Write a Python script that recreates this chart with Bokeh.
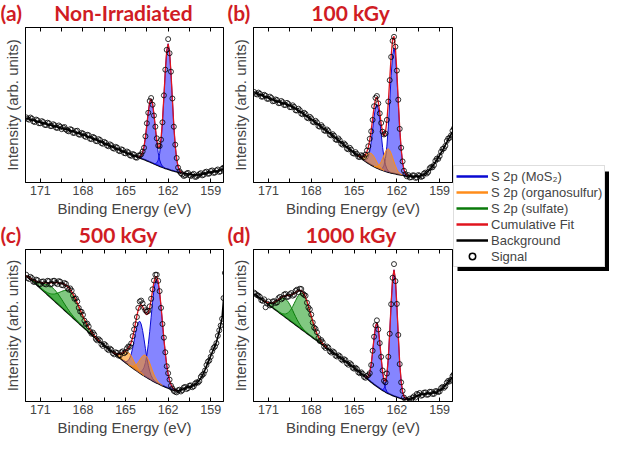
import numpy as np
from bokeh.plotting import figure
from bokeh.models import (Range1d, FixedTicker, LinearAxis, Label, Legend, LegendItem,
                          BoxAnnotation, CustomJSTickFormatter)
from bokeh.layouts import row, column
from bokeh.embed import file_html
from bokeh.resources import INLINE

# ---------------- data (binding energy grid, eV, 0.1 eV steps) ----------------
ENERGY = [172.0, 171.9, 171.8, 171.7, 171.6, 171.5, 171.4, 171.3, 171.2, 171.1,
          171.0, 170.9, 170.8, 170.7, 170.6, 170.5, 170.4, 170.3, 170.2, 170.1,
          170.0, 169.9, 169.8, 169.7, 169.6, 169.5, 169.4, 169.3, 169.2, 169.1,
          169.0, 168.9, 168.8, 168.7, 168.6, 168.5, 168.4, 168.3, 168.2, 168.1,
          168.0, 167.9, 167.8, 167.7, 167.6, 167.5, 167.4, 167.3, 167.2, 167.1,
          167.0, 166.9, 166.8, 166.7, 166.6, 166.5, 166.4, 166.3, 166.2, 166.1,
          166.0, 165.9, 165.8, 165.7, 165.6, 165.5, 165.4, 165.3, 165.2, 165.1,
          165.0, 164.9, 164.8, 164.7, 164.6, 164.5, 164.4, 164.3, 164.2, 164.1,
          164.0, 163.9, 163.8, 163.7, 163.6, 163.5, 163.4, 163.3, 163.2, 163.1,
          163.0, 162.9, 162.8, 162.7, 162.6, 162.5, 162.4, 162.3, 162.2, 162.1,
          162.0, 161.9, 161.8, 161.7, 161.6, 161.5, 161.4, 161.3, 161.2, 161.1,
          161.0, 160.9, 160.8, 160.7, 160.6, 160.5, 160.4, 160.3, 160.2, 160.1,
          160.0, 159.9, 159.8, 159.7, 159.6, 159.5, 159.4, 159.3, 159.2, 159.1,
          159.0, 158.9, 158.8, 158.7, 158.6, 158.5, 158.4, 158.3, 158.2, 158.1,
          158.0]

X_TICKS = [171, 168, 165, 162, 159]
X_MINOR = [169.5, 166.5, 163.5, 160.5]

# (a) Non-Irradiated
A_SIGNAL = [42.0, 41.0, 40.5, 41.9, 41.2, 39.4, 39.0, 40.6, 40.1, 38.2,
            38.2, 39.6, 39.0, 37.2, 37.0, 38.6, 38.2, 36.4, 36.4, 37.6,
            37.0, 35.4, 35.2, 36.8, 36.0, 34.4, 35.4, 35.8, 34.2, 33.4,
            33.0, 34.4, 34.0, 32.0, 32.0, 33.2, 33.4, 31.0, 30.8, 32.0,
            31.6, 30.0, 29.4, 30.8, 30.5, 28.2, 28.0, 29.4, 28.9, 26.8,
            26.6, 28.0, 27.4, 25.4, 25.0, 26.2, 25.6, 23.8, 23.4, 24.6,
            24.0, 22.2, 21.8, 23.0, 22.6, 20.6, 20.2, 21.4, 21.0, 19.0,
            18.8, 20.0, 19.4, 17.6, 17.2, 18.4, 18.0, 16.2, 16.0, 17.4,
            17.4, 18.2, 20.0, 22.4, 29.8, 38.2, 45.0, 52.6, 54.5, 50.2,
            43.2, 36.0, 28.5, 23.8, 23.5, 27.6, 38.8, 56.2, 72.8, 85.6,
            92.5, 83.4, 71.5, 54.2, 36.0, 24.4, 15.8, 9.6, 7.2, 6.0,
            5.2, 4.2, 4.6, 5.8, 6.2, 4.6, 4.2, 5.0, 5.6, 3.6,
            3.8, 4.6, 5.4, 6.0, 4.6, 5.0, 6.6, 7.0, 5.6, 5.8,
            7.4, 7.8, 6.2, 6.4, 7.8, 8.4, 6.8, 7.2, 8.8, 9.6,
            9.8]
A_BACKGROUND = [41.5, 41.25, 41.0, 40.7, 40.4, 40.15, 39.9, 39.6, 39.3, 39.05,
                38.8, 38.55, 38.3, 38.05, 37.8, 37.55, 37.3, 37.05, 36.8, 36.55,
                36.3, 36.05, 35.8, 35.55, 35.3, 35.05, 34.8, 34.55, 34.3, 34.05,
                33.8, 33.5, 33.2, 32.9, 32.6, 32.3, 32.0, 31.7, 31.4, 31.1,
                30.8, 30.45, 30.1, 29.75, 29.4, 29.05, 28.7, 28.35, 28.0, 27.65,
                27.3, 26.9, 26.5, 26.1, 25.7, 25.3, 24.9, 24.5, 24.1, 23.7,
                23.3, 22.9, 22.5, 22.1, 21.7, 21.3, 20.9, 20.5, 20.1, 19.75,
                19.4, 19.05, 18.7, 18.35, 18.0, 17.65, 17.3, 16.95, 16.6, 16.25,
                15.9, 15.55, 15.2, 14.85, 14.5, 14.1, 13.7, 13.3, 12.9, 12.5,
                12.1, 11.7, 11.3, 10.9, 10.5, 10.15, 9.8, 9.45, 9.1, 8.8,
                8.5, 8.2, 7.9, 7.65, 7.4, 7.15, 6.9, 6.7, 6.5, 6.3,
                6.1, 5.95, 5.8, 5.65, 5.5, 5.35, 5.2, 5.05, 4.9, 4.85,
                4.8, 4.85, 4.9, 5.15, 5.4, 5.65, 5.9, 6.1, 6.3, 6.45,
                6.6, 6.75, 6.9, 7.05, 7.2, 7.4, 7.6, 7.95, 8.3, 8.85,
                9.4]
A_PEAK_CENTER = [162.0, 163.2]
A_PEAK_HEIGHT = [81, 41]
A_PEAK_SIGMA = [0.28, 0.28]
A_PEAK_KIND = ["mos2", "mos2"]

# (b) 100 kGy
B_SIGNAL = [58.4, 57.2, 56.8, 58.0, 57.2, 55.4, 55.4, 56.6, 56.0, 54.0,
            54.0, 55.4, 54.6, 52.4, 52.6, 53.6, 53.2, 51.2, 51.2, 52.6,
            51.8, 50.0, 50.0, 51.4, 50.6, 48.6, 48.6, 49.8, 48.8, 46.6,
            46.4, 47.6, 46.6, 44.4, 44.0, 45.0, 44.2, 41.8, 41.4, 42.4,
            41.4, 39.2, 38.8, 39.8, 38.8, 36.4, 36.0, 37.0, 35.8, 33.6,
            33.2, 34.2, 33.2, 30.8, 30.4, 31.2, 30.2, 27.8, 27.4, 28.4,
            27.2, 25.0, 24.4, 25.2, 24.2, 21.8, 21.4, 22.4, 21.2, 19.0,
            18.6, 19.6, 18.4, 16.6, 16.4, 17.6, 17.2, 16.4, 18.0, 20.6,
            23.4, 28.2, 33.0, 40.4, 49.2, 54.6, 55.8, 51.0, 44.6, 38.4,
            32.8, 31.0, 31.6, 40.4, 52.2, 66.0, 81.0, 91.4, 94.0, 87.6,
            72.2, 53.4, 34.6, 22.4, 13.6, 7.6, 5.4, 4.0, 4.8, 3.2,
            3.4, 4.6, 4.6, 3.0, 3.2, 4.8, 4.4, 3.6, 4.0, 5.8,
            6.4, 5.8, 6.8, 9.2, 10.0, 9.8, 11.2, 14.0, 15.4, 15.2,
            17.0, 19.8, 21.6, 22.0, 23.6, 26.8, 28.4, 28.8, 30.4, 33.4,
            35.0]
B_BACKGROUND = [58.0, 57.65, 57.3, 56.95, 56.6, 56.25, 55.9, 55.55, 55.2, 54.85,
                54.5, 54.15, 53.8, 53.4, 53.0, 52.7, 52.4, 52.1, 51.8, 51.5,
                51.2, 50.9, 50.6, 50.3, 50.0, 49.6, 49.2, 48.7, 48.2, 47.6,
                47.0, 46.4, 45.8, 45.2, 44.6, 43.95, 43.3, 42.65, 42.0, 41.35,
                40.7, 40.05, 39.4, 38.7, 38.0, 37.3, 36.6, 35.9, 35.2, 34.5,
                33.8, 33.1, 32.4, 31.7, 31.0, 30.25, 29.5, 28.75, 28.0, 27.25,
                26.5, 25.75, 25.0, 24.25, 23.5, 22.75, 22.0, 21.3, 20.6, 19.9,
                19.2, 18.5, 17.8, 17.1, 16.4, 15.7, 15.0, 14.3, 13.6, 13.0,
                12.4, 11.85, 11.3, 10.8, 10.3, 9.85, 9.4, 9.0, 8.6, 8.25,
                7.9, 7.6, 7.3, 7.0, 6.7, 6.45, 6.2, 6.0, 5.8, 5.6,
                5.4, 5.2, 5.0, 4.85, 4.7, 4.55, 4.4, 4.3, 4.2, 4.1,
                4.0, 3.95, 3.9, 3.9, 3.9, 3.95, 4.0, 4.3, 4.6, 5.2,
                5.8, 6.6, 7.4, 8.4, 9.4, 10.6, 11.8, 13.2, 14.6, 16.1,
                17.6, 19.2, 20.8, 22.5, 24.2, 25.9, 27.6, 29.3, 31.0, 32.7,
                34.4]
B_PEAK_CENTER = [162.2, 163.4, 162.6, 163.8]
B_PEAK_HEIGHT = [81, 41, 15, 7.5]
B_PEAK_SIGMA = [0.28, 0.28, 0.34, 0.34]
B_PEAK_KIND = ["mos2", "mos2", "organo", "organo"]

# (c) 500 kGy
C_SIGNAL = [83.4, 81.2, 80.6, 82.0, 81.2, 78.8, 78.6, 80.2, 79.8, 77.2,
            77.2, 78.8, 79.0, 77.4, 77.0, 79.4, 79.2, 77.0, 77.4, 79.4,
            79.4, 78.0, 77.2, 79.2, 78.8, 76.6, 76.4, 78.0, 77.4, 74.8,
            73.6, 74.4, 73.0, 69.8, 67.6, 67.8, 65.8, 61.6, 59.2, 59.0,
            57.0, 53.2, 51.0, 51.2, 49.4, 46.2, 44.6, 45.4, 44.0, 41.2,
            40.2, 41.0, 40.2, 37.6, 36.6, 37.8, 37.0, 34.6, 33.8, 34.8,
            34.0, 31.8, 31.0, 32.4, 32.0, 30.2, 30.4, 32.4, 33.0, 31.8,
            32.6, 35.0, 36.2, 36.0, 38.2, 43.0, 47.4, 50.8, 55.6, 61.6,
            65.8, 66.4, 64.6, 61.8, 60.0, 59.0, 59.6, 62.6, 67.6, 73.8,
            79.6, 83.4, 83.4, 79.4, 72.6, 61.6, 51.0, 42.0, 32.4, 23.2,
            18.6, 14.4, 10.4, 8.6, 7.0, 6.4, 6.0, 7.4, 7.8, 6.6,
            7.4, 9.2, 9.6, 8.2, 8.8, 10.4, 10.6, 9.4, 10.0, 11.8,
            12.6, 12.4, 13.4, 16.2, 17.4, 18.2, 20.4, 24.0, 26.2, 27.0,
            29.4, 33.0, 35.2, 36.2, 38.4, 43.2, 46.8, 50.0, 54.4, 68.0,
            84.6]
C_BACKGROUND = [82.5, 81.85, 81.2, 80.4, 79.6, 78.8, 78.0, 77.15, 76.3, 75.45,
                74.6, 73.75, 72.9, 72.05, 71.2, 70.35, 69.5, 68.65, 67.8, 66.95,
                66.1, 65.25, 64.4, 63.55, 62.7, 61.85, 61.0, 60.15, 59.3, 58.45,
                57.6, 56.75, 55.9, 55.05, 54.2, 53.35, 52.5, 51.65, 50.8, 49.95,
                49.1, 48.25, 47.4, 46.55, 45.7, 44.85, 44.0, 43.15, 42.3, 41.5,
                40.7, 39.9, 39.1, 38.35, 37.6, 36.85, 36.1, 35.35, 34.6, 33.85,
                33.1, 32.35, 31.6, 30.85, 30.1, 29.35, 28.6, 27.85, 27.1, 26.35,
                25.6, 24.9, 24.2, 23.5, 22.8, 22.1, 21.4, 20.75, 20.1, 19.45,
                18.8, 18.2, 17.6, 17.0, 16.4, 15.85, 15.3, 14.75, 14.2, 13.7,
                13.2, 12.7, 12.2, 11.75, 11.3, 10.85, 10.4, 10.0, 9.6, 9.2,
                8.8, 8.45, 8.1, 7.8, 7.5, 7.25, 7.0, 7.1, 7.2, 7.6,
                8.0, 8.4, 8.8, 9.1, 9.4, 9.65, 9.9, 10.2, 10.5, 11.25,
                12.0, 13.0, 14.0, 15.35, 16.7, 18.85, 21.0, 23.25, 25.5, 27.75,
                30.0, 32.25, 34.5, 36.75, 39.0, 42.5, 46.0, 50.5, 55.0, 67.0,
                84.0]
C_PEAK_CENTER = [162.8, 164.0, 163.6, 164.8, 168.9, 170.1]
C_PEAK_HEIGHT = [68, 34, 14, 8, 15, 7.5]
C_PEAK_SIGMA = [0.40, 0.36, 0.40, 0.40, 0.72, 0.72]
C_PEAK_KIND = ["mos2", "mos2", "organo", "organo", "sulfate", "sulfate"]

# (d) 1000 kGy
D_SIGNAL = [71.6, 70.8, 70.0, 69.6, 68.8, 66.6, 66.2, 67.2, 62.0, 64.4,
            65.8, 63.2, 63.6, 65.8, 66.0, 64.8, 65.2, 68.0, 68.8, 67.2,
            68.0, 70.4, 70.8, 68.8, 69.0, 70.6, 71.4, 69.6, 70.2, 72.8,
            73.6, 72.0, 74.2, 74.0, 71.0, 70.2, 69.6, 65.0, 61.8, 60.6,
            57.2, 52.0, 48.6, 47.8, 45.6, 41.8, 39.8, 40.4, 39.0, 36.2,
            35.2, 36.2, 35.4, 33.0, 32.2, 33.0, 32.4, 30.2, 29.6, 30.4,
            29.8, 27.8, 27.0, 27.8, 27.2, 25.0, 24.2, 25.2, 24.4, 22.2,
            21.6, 22.2, 21.4, 19.2, 18.6, 19.2, 18.2, 16.2, 15.6, 16.8,
            17.4, 18.6, 24.0, 33.4, 42.6, 50.2, 53.4, 47.4, 38.4, 29.4,
            20.4, 13.6, 12.6, 18.4, 29.4, 44.6, 64.0, 81.4, 90.4, 79.2,
            64.2, 43.8, 24.6, 12.6, 7.0, 2.6, 1.2, 0.8, 0.6, 1.8,
            1.0, 2.6, 3.4, 2.6, 5.0, 4.6, 5.6, 3.8, 4.2, 5.8,
            6.0, 4.4, 4.6, 6.4, 6.4, 5.0, 5.0, 6.8, 6.8, 6.2,
            6.6, 8.8, 9.6, 9.0, 10.0, 12.4, 13.6, 13.2, 14.4, 16.8,
            18.0]
D_BACKGROUND = [70.8, 70.1, 69.4, 68.7, 68.0, 67.3, 66.6, 65.9, 65.2, 64.5,
                63.8, 63.1, 62.4, 61.7, 61.0, 60.3, 59.6, 58.9, 58.2, 57.5,
                56.8, 56.1, 55.4, 54.7, 54.0, 53.3, 52.6, 51.9, 51.2, 50.5,
                49.8, 49.1, 48.4, 47.7, 47.0, 46.3, 45.6, 44.9, 44.2, 43.5,
                42.8, 42.1, 41.4, 40.7, 40.0, 39.3, 38.6, 37.9, 37.2, 36.5,
                35.8, 35.1, 34.4, 33.7, 33.0, 32.3, 31.6, 30.95, 30.3, 29.65,
                29.0, 28.35, 27.7, 27.05, 26.4, 25.7, 25.0, 24.3, 23.6, 22.9,
                22.2, 21.45, 20.7, 19.95, 19.2, 18.4, 17.6, 16.8, 16.0, 15.2,
                14.4, 13.6, 12.8, 12.05, 11.3, 10.6, 9.9, 9.25, 8.6, 8.0,
                7.4, 6.85, 6.3, 5.8, 5.3, 4.85, 4.4, 4.0, 3.6, 3.25,
                2.9, 2.6, 2.3, 2.05, 1.8, 1.65, 1.5, 1.45, 1.4, 1.5,
                1.6, 2.1, 2.6, 3.1, 3.6, 3.95, 4.3, 4.5, 4.7, 4.85,
                5.0, 5.1, 5.2, 5.3, 5.4, 5.55, 5.7, 6.0, 6.3, 6.8,
                7.3, 8.05, 8.8, 9.7, 10.6, 11.7, 12.8, 13.9, 15.0, 16.1,
                17.2]
D_PEAK_CENTER = [162.2, 163.4, 168.6, 169.8]
D_PEAK_HEIGHT = [83, 42, 24, 12]
D_PEAK_SIGMA = [0.25, 0.25, 0.55, 0.55]
D_PEAK_KIND = ["mos2", "mos2", "sulfate", "sulfate"]

PANEL_TAGS = ["(a)", "(b)", "(c)", "(d)"]
PANEL_TITLES = ["Non-Irradiated", "100 kGy", "500 kGy", "1000 kGy"]
LEGEND_LABELS = ["S 2p (MoS\u2082)", "S 2p (organosulfur)", "S 2p (sulfate)",
                 "Cumulative Fit", "Background", "Signal"]

# ---------------- styles ----------------
TITLE_RED = "#d01c24"
LINE_COL = {"mos2": "#0a0ad2", "organo": "#ff8c1a", "sulfate": "#0a7a0a"}
FILL_COL = {"mos2": "#2020ff", "organo": "#ff8c00", "sulfate": "#1a9a1a"}
FIT_RED = "#e0141e"
FONT = "Liberation Sans"
TFONT = "Lato"


def make_panel(signal, background, centers, heights, sigmas, kinds,
               left, frame_w, right, top, frame_h, bottom):
    p = figure(width=left + frame_w + right, height=top + frame_h + bottom,
               x_range=Range1d(172.05, 158.1), y_range=Range1d(0, 100),
               output_backend="svg", toolbar_location=None,
               min_border_left=left, min_border_right=right,
               min_border_top=top, min_border_bottom=bottom,
               background_fill_color="white", border_fill_color="white")
    p.outline_line_color = "black"
    p.outline_line_width = 1
    p.xgrid.visible = False
    p.ygrid.visible = False

    xa = p.xaxis[0]
    xa.ticker = FixedTicker(ticks=X_TICKS, minor_ticks=X_MINOR)
    xa.major_tick_in = 4
    xa.major_tick_out = 0
    xa.minor_tick_in = 4
    xa.minor_tick_out = 0
    xa.axis_label = "Binding Energy (eV)"
    xa.axis_label_text_font = FONT
    xa.axis_label_text_font_style = "normal"
    xa.axis_label_text_font_size = "15px"
    xa.axis_label_standoff = 2
    xa.major_label_text_font = FONT
    xa.major_label_text_font_size = "12.5px"
    xa.major_label_standoff = 3
    xa.axis_line_color = "black"

    top_axis = LinearAxis(ticker=FixedTicker(ticks=X_TICKS, minor_ticks=X_MINOR),
                          formatter=CustomJSTickFormatter(code="return ''"),
                          major_tick_in=4, major_tick_out=0,
                          minor_tick_in=4, minor_tick_out=0,
                          major_label_standoff=0, major_label_text_font_size="0px",
                          axis_line_color="black")
    p.add_layout(top_axis, "above")

    ya = p.yaxis[0]
    ya.ticker = FixedTicker(ticks=[])
    ya.major_tick_out = 0
    ya.minor_tick_out = 0
    ya.axis_label = "Intensity (arb. units)"
    ya.axis_label_text_font = FONT
    ya.axis_label_text_font_style = "normal"
    ya.axis_label_text_font_size = "15px"
    ya.axis_label_standoff = 5
    ya.axis_line_color = "black"

    E = np.array(ENERGY, dtype=float)
    bg = np.array(background, dtype=float)
    total = np.zeros_like(E)

    p.line(E, bg, line_color="black", line_width=1.6)

    order = {"mos2": 0, "organo": 1, "sulfate": 2}
    comps = sorted(zip(centers, heights, sigmas, kinds), key=lambda t: order[t[3]])
    for c, h, s, k in comps:
        g = h * np.exp(-0.5 * ((E - c) / s) ** 2)
        total += g
        idx = np.where(g > 0.3)[0]
        lo = max(idx[0] - 1, 0)
        hi = min(idx[-1] + 2, len(E))
        p.varea(x=E[lo:hi], y1=bg[lo:hi], y2=(bg + g)[lo:hi],
                fill_color=FILL_COL[k], fill_alpha=0.55)
        p.line(E[lo:hi], (bg + g)[lo:hi], line_color=LINE_COL[k], line_width=1.0)

    keep = total >= 0.3
    keep_ext = keep | np.roll(keep, 1) | np.roll(keep, -1)
    fit = np.where(keep_ext, bg + total, np.nan)
    p.line(E, fit, line_color=FIT_RED, line_width=1.3)

    p.scatter(E, np.array(signal, dtype=float), marker="circle", size=5,
              fill_color=None, line_color="black", line_width=0.8)
    return p


def make_title_strip(width, height, entries):
    t = figure(width=width, height=height, x_range=Range1d(0, width),
               y_range=Range1d(0, height), output_backend="svg", toolbar_location=None,
               x_axis_location=None, y_axis_location=None,
               min_border_left=0, min_border_right=0, min_border_top=0,
               min_border_bottom=0, background_fill_color="white",
               border_fill_color="white")
    t.outline_line_color = None
    t.grid.visible = False
    for x, txt, align in entries:
        t.add_layout(Label(x=x, y=height - 11.5, text=txt, text_font=TFONT,
                           text_font_style="bold", text_font_size="21px",
                           text_color=TITLE_RED, text_align=align,
                           text_baseline="middle"))
    return t


fa = make_panel(A_SIGNAL, A_BACKGROUND, A_PEAK_CENTER, A_PEAK_HEIGHT, A_PEAK_SIGMA,
                A_PEAK_KIND, 24, 199, 4, 1, 155, 40)
fb = make_panel(B_SIGNAL, B_BACKGROUND, B_PEAK_CENTER, B_PEAK_HEIGHT, B_PEAK_SIGMA,
                B_PEAK_KIND, 26, 199, 1, 1, 155, 40)
fc = make_panel(C_SIGNAL, C_BACKGROUND, C_PEAK_CENTER, C_PEAK_HEIGHT, C_PEAK_SIGMA,
                C_PEAK_KIND, 24, 199, 4, 1, 152, 38)
fd = make_panel(D_SIGNAL, D_BACKGROUND, D_PEAK_CENTER, D_PEAK_HEIGHT, D_PEAK_SIGMA,
                D_PEAK_KIND, 26, 199, 1, 1, 152, 38)

t_top = make_title_strip(453, 26, [(0, PANEL_TAGS[0], "left"),
                                   (123, PANEL_TITLES[0], "center"),
                                   (227, PANEL_TAGS[1], "left"),
                                   (350, PANEL_TITLES[1], "center")])
t_bot = make_title_strip(453, 26, [(0, PANEL_TAGS[2], "left"),
                                   (117.5, PANEL_TITLES[2], "center"),
                                   (227, PANEL_TAGS[3], "left"),
                                   (350.5, PANEL_TITLES[3], "center")])

# ---------------- legend panel ----------------
LW, LH = 156, 439
lf = figure(width=LW, height=LH, x_range=Range1d(0, LW), y_range=Range1d(0, LH),
            output_backend="svg", toolbar_location=None,
            x_axis_location=None, y_axis_location=None,
            min_border_left=0, min_border_right=0, min_border_top=0, min_border_bottom=0,
            background_fill_color="white", border_fill_color="white")
lf.outline_line_color = None
lf.grid.visible = False

leg_bottom = 172
leg_h = 100
lf.add_layout(BoxAnnotation(left=4, right=155.5, bottom=leg_bottom - 3.5,
                            top=leg_bottom + leg_h - 4, fill_color="black",
                            fill_alpha=1.0, line_color=None))

OFF_X = [-50, -40]
OFF_Y = [-50, -50]
r_m = lf.line(x=OFF_X, y=OFF_Y, line_color=LINE_COL["mos2"], line_width=2.6)
r_o = lf.line(x=OFF_X, y=OFF_Y, line_color=LINE_COL["organo"], line_width=2.6)
r_s = lf.line(x=OFF_X, y=OFF_Y, line_color=LINE_COL["sulfate"], line_width=2.6)
r_f = lf.line(x=OFF_X, y=OFF_Y, line_color=FIT_RED, line_width=2.6)
r_b = lf.line(x=OFF_X, y=OFF_Y, line_color="black", line_width=2.6)
r_c = lf.scatter(x=OFF_X, y=OFF_Y, marker="circle", size=8, fill_color=None,
                 line_color="black", line_width=1.5)
items = [LegendItem(label=lab, renderers=[r]) for lab, r in
         zip(LEGEND_LABELS, [r_m, r_o, r_s, r_f, r_b, r_c])]
legend = Legend(items=items, location=(0, leg_bottom), padding=2, margin=0, spacing=0,
                label_height=16, glyph_height=16, glyph_width=32, label_standoff=3,
                label_text_font=FONT, label_text_font_size="13px",
                border_line_color="#bdbdbd", border_line_width=1,
                background_fill_color="white", background_fill_alpha=1.0)
lf.add_layout(legend)

left_block = column(t_top, row(fa, fb), t_bot, row(fc, fd))
layout = row(left_block, lf)

open("out.html", "w").write(file_html(layout, INLINE))
